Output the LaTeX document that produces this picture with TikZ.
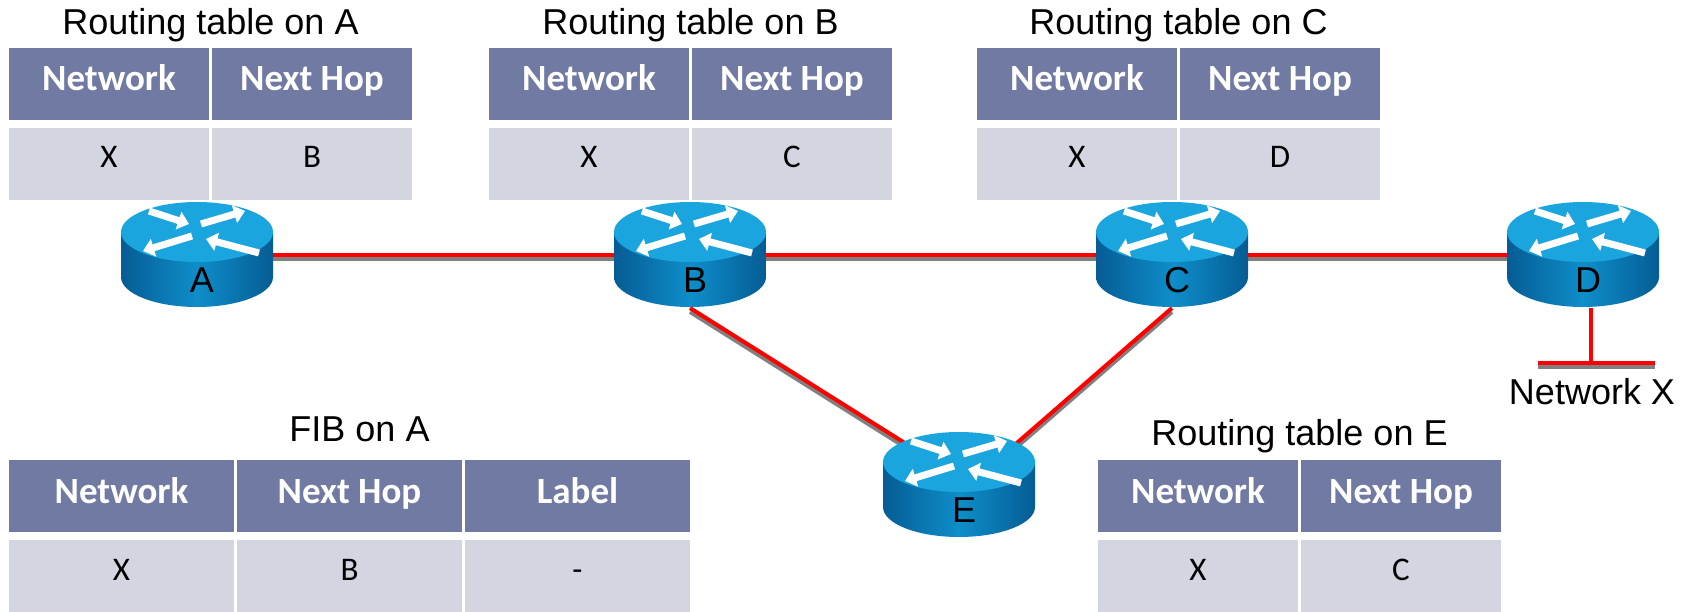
\documentclass[tikz,border=0pt]{standalone}
\usepackage{fontspec}
\setmainfont{Liberation Sans}
\newfontfamily\tabfont{Carlito}
\definecolor{HeadBlue}{RGB}{113,122,162}
\definecolor{CellGrey}{RGB}{211,214,224}
\definecolor{LinkRed}{RGB}{255,0,0}
\definecolor{LinkGrey}{RGB}{128,128,128}
\definecolor{RouterTop}{RGB}{27,165,222}
\definecolor{RouterSide}{RGB}{14,142,202}
\definecolor{RouterEdge}{RGB}{6,92,148}
\usepackage{tikz}
\usetikzlibrary{arrows.meta, positioning, calc, backgrounds}

\newcommand{\router}[3]{%
  \node[routerbox] (#1) at (#2) {};
  \begin{scope}[shift={(#1.center)}]
    \shade[left color=RouterEdge, right color=RouterEdge, middle color=RouterSide]
      (-76,-23) -- (-76,22) arc[start angle=180, end angle=360, x radius=76pt, y radius=30pt] -- (76,-23) -- cycle;
    \fill[RouterTop] (0,-23) ellipse[x radius=76pt, y radius=30pt];
    \draw[flow] (-48,-44) -- (-8,-31);
    \draw[flow] (-5,-19) -- (-54,-4);
    \draw[flow] (4,-31) -- (48,-44);
    \draw[flow] (62,-2) -- (9,-16);
  \end{scope}
  \node[tag] at ($(#1.center)+(5,25)$) {#3};
}

\begin{document}
\begin{tikzpicture}[
            x=1pt, y=-1pt,
            head/.style={rectangle, fill=HeadBlue, text=white, inner sep=0pt, outer sep=0pt,
                         minimum width=200pt, minimum height=72pt, text height=24pt, text depth=10pt,
                         font=\tabfont\bfseries\fontsize{37}{40}\selectfont},
            fibhead/.style={head, minimum width=225pt},
            cell/.style={rectangle, fill=CellGrey, inner sep=0pt, outer sep=0pt,
                         minimum width=200pt, minimum height=72pt, text height=21pt, text depth=13pt,
                         font=\tabfont\fontsize{33}{36}\selectfont},
            fibcell/.style={cell, minimum width=225pt},
            title/.style={anchor=base, inner sep=0pt, font=\fontsize{36}{40}\selectfont},
            tag/.style={inner sep=0pt, font=\fontsize{36}{40}\selectfont},
            routerbox/.style={rectangle, inner sep=0pt, outer sep=0pt,
                              minimum width=152pt, minimum height=106pt},
            flow/.style={white, line width=7pt, -{Triangle[length=11pt, width=18pt]}},
            link/.style={draw=LinkRed, line width=4pt,
                         preaction={draw=LinkGrey, line width=4pt, transform canvas={yshift=-4pt}}}
        ]
            \useasboundingbox (0,0) rectangle (1692,612);

            \node[head] (aNet) at (109,84) {Network};
            \node[head, right=3pt of aNet] (aHop) {Next Hop};
            \node[cell, below=8pt of aNet] (aX) {X};
            \node[cell, below=8pt of aHop] (aB) {B};
            \node[title] at ($(aNet.north east)!.5!(aHop.north west)+(0pt,13pt)$) {Routing table on A};

            \node[head] (bNet) at (589,84) {Network};
            \node[head, right=3pt of bNet] (bHop) {Next Hop};
            \node[cell, below=8pt of bNet] (bX) {X};
            \node[cell, below=8pt of bHop] (bC) {C};
            \node[title] at ($(bNet.north east)!.5!(bHop.north west)+(0pt,13pt)$) {Routing table on B};

            \node[head] (cNet) at (1077,84) {Network};
            \node[head, right=3pt of cNet] (cHop) {Next Hop};
            \node[cell, below=8pt of cNet] (cX) {X};
            \node[cell, below=8pt of cHop] (cD) {D};
            \node[title] at ($(cNet.north east)!.5!(cHop.north west)+(0pt,13pt)$) {Routing table on C};

            \node[fibhead] (fNet) at (121.5,496) {Network};
            \node[fibhead, right=3pt of fNet] (fHop) {Next Hop};
            \node[fibhead, right=3pt of fHop] (fLab) {Label};
            \node[fibcell, below=8pt of fNet] (fX) {X};
            \node[fibcell, below=8pt of fHop] (fB) {B};
            \node[fibcell, below=8pt of fLab] (fDash) {-};
            \node[title] at ($(fHop.north)+(10pt,19pt)$) {FIB on A};

            \node[head] (eNet) at (1198,496) {Network};
            \node[head, right=3pt of eNet] (eHop) {Next Hop};
            \node[cell, below=8pt of eNet] (eX) {X};
            \node[cell, below=8pt of eHop] (eC) {C};
            \node[title] at ($(eNet.north east)!.5!(eHop.north west)+(0pt,15pt)$) {Routing table on E};

            \router{rA}{197,255}{A}
            \router{rB}{690,255}{B}
            \router{rC}{1172,255}{C}
            \router{rD}{1583,255}{D}
            \router{rE}{959,485}{E}

            \coordinate (netx) at (1591,363);
            \coordinate (barl) at (1538,363);
            \coordinate (barr) at (1655,363);
            \node[tag] (netlabel) at (1592,392) {Network X};

            \begin{scope}[on background layer]
                \draw[link] (rA.east) -- (rB.west);
                \draw[link] (rB.east) -- (rC.west);
                \draw[link] (rC.east) -- (rD.west);
                \draw[link] (rB.south) -- ($(rE.center)+(-24,-23)$);
                \draw[link] (rC.south) -- ($(rE.center)+(36,-23)$);
                \draw[link] ($(rD.south)+(8,0)$) -- (netx);
                \draw[link] (barl) -- (barr);
            \end{scope}
        \end{tikzpicture}
\end{document}
